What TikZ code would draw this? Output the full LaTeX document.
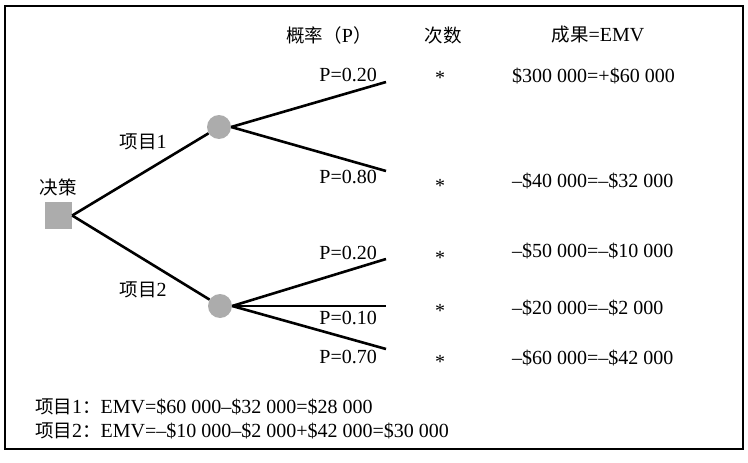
\documentclass[tikz,border=0pt]{standalone}
\usepackage{fontspec}
\setmainfont{Liberation Serif}
\newfontfamily\cjk{Noto Sans CJK SC}
\definecolor{nodegray}{RGB}{172,172,172}
\newcommand{\cj}[1]{{\cjk\fontsize{18.5}{20}\selectfont #1}}
\begin{document}
\begin{tikzpicture}[x=1pt,y=-1pt,
  txt/.style={inner sep=0pt,font=\fontsize{20}{22}\selectfont},
  branch/.style={line width=2.6pt},
  decision/.style={draw=none,fill=nodegray,minimum size=27pt,inner sep=0pt},
  chance/.style={circle,draw=none,fill=nodegray,minimum size=24pt,inner sep=0pt}]
\useasboundingbox (0,0) rectangle (748,463);
\node[draw,line width=1.6pt,minimum width=738pt,minimum height=443pt,anchor=north west,inner sep=0pt] (frame) at (4,5) {};

% nodes
\node[decision] (d) at (58.5,215.5) {};
\node[chance] (c1) at (219,127) {};
\node[chance] (c2) at (220,306) {};
\coordinate (e1) at (386,82);
\coordinate (e2) at (386,171);
\coordinate (e3) at (386,259);
\coordinate (e4) at (386,306);
\coordinate (e5) at (386,349);

% connectors
\draw[branch] (d.east) -- (c1);
\draw[branch] (d.east) -- (c2);
\draw[branch] (c1.east) -- (e1);
\draw[branch] (c1.east) -- (e2);
\draw[branch] (c2.east) -- (e3);
\draw[branch] (c2.east) -- (e4);
\draw[branch] (c2.east) -- (e5);

% headers
\node[txt] (h1) at (329,35) {\cj{概率（}P\cj{）}};
\node[txt] (h2) at (443,35) {\cj{次数}};
\node[txt] (h3) at (598,35) {\cj{成果}=EMV};

% labels
\node[txt] (lbd) at (58,187) {\cj{决策}};
\node[txt] (lb1) at (143,142) {\cj{项目}1};
\node[txt] (lb2) at (143,290) {\cj{项目}2};

\node[txt,anchor=east] (p1) at (377,75) {P=0.20};
\node[txt,anchor=east] (p2) at (377,177) {P=0.80};
\node[txt,anchor=east] (p3) at (377,253) {P=0.20};
\node[txt,anchor=east] (p4) at (377,318) {P=0.10};
\node[txt,anchor=east] (p5) at (377,357) {P=0.70};

\node[txt] (s1) at (440,78) {*};
\node[txt] (s2) at (440,186) {*};
\node[txt] (s3) at (440,258) {*};
\node[txt] (s4) at (440,311) {*};
\node[txt] (s5) at (440,362) {*};

\node[txt,anchor=west] (v1) at (512,76) {\$300 000=+\$60 000};
\node[txt,anchor=west] (v2) at (512,181) {–\$40 000=–\$32 000};
\node[txt,anchor=west] (v3) at (512,251) {–\$50 000=–\$10 000};
\node[txt,anchor=west] (v4) at (512,308) {–\$20 000=–\$2 000};
\node[txt,anchor=west] (v5) at (512,358) {–\$60 000=–\$42 000};

\node[txt,anchor=west] (b1) at (35,407) {\cj{项目}1\cj{：}EMV=\$60 000–\$32 000=\$28 000};
\node[txt,anchor=west] (b2) at (35,431) {\cj{项目}2\cj{：}EMV=–\$10 000–\$2 000+\$42 000=\$30 000};
\end{tikzpicture}
\end{document}
